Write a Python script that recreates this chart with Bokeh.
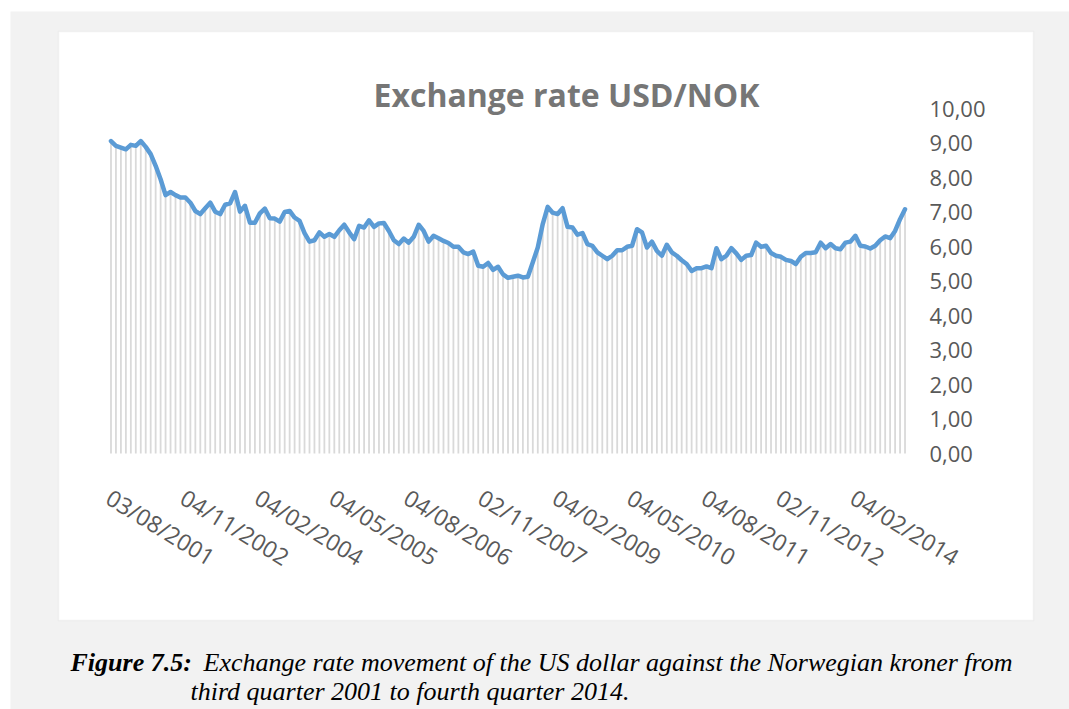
from bokeh.plotting import figure
from bokeh.models import BoxAnnotation, Label, ColumnDataSource
from bokeh.core.properties import value
from bokeh.embed import file_html
from bokeh.resources import INLINE

# ---------------- data ----------------
title_text = "Exchange rate USD/NOK"
caption_bold = "Figure 7.5:"
caption_line1 = "Exchange rate movement of the US dollar against the Norwegian kroner from"
caption_line2 = "third quarter 2001 to fourth quarter 2014."

# monthly USD/NOK rate, Aug 2001 .. Dec 2014
usd_nok = [
    9.07, 8.93, 8.88, 8.83, 8.96, 8.93, 9.07, 8.90, 8.69, 8.35,
    7.96, 7.50, 7.59, 7.50, 7.43, 7.43, 7.28, 7.04, 6.95, 7.12,
    7.28, 7.02, 6.95, 7.22, 7.26, 7.59, 7.02, 7.19, 6.70, 6.70,
    6.97, 7.11, 6.83, 6.82, 6.73, 7.01, 7.04, 6.85, 6.75, 6.40,
    6.15, 6.19, 6.42, 6.29, 6.37, 6.29, 6.48, 6.64, 6.42, 6.22,
    6.61, 6.56, 6.77, 6.58, 6.68, 6.69, 6.46, 6.19, 6.08, 6.24,
    6.12, 6.29, 6.64, 6.46, 6.15, 6.32, 6.25, 6.17, 6.11, 6.00,
    6.00, 5.84, 5.79, 5.86, 5.45, 5.42, 5.53, 5.33, 5.42, 5.20,
    5.10, 5.13, 5.16, 5.11, 5.13, 5.55, 5.98, 6.66, 7.16, 6.99,
    6.95, 7.12, 6.58, 6.56, 6.35, 6.40, 6.08, 6.03, 5.84, 5.74,
    5.64, 5.74, 5.90, 5.90, 6.00, 6.03, 6.51, 6.42, 5.98, 6.15,
    5.88, 5.74, 6.06, 5.84, 5.74, 5.61, 5.50, 5.30, 5.38, 5.38,
    5.43, 5.38, 5.96, 5.64, 5.74, 5.96, 5.81, 5.62, 5.74, 5.76,
    6.12, 6.00, 6.03, 5.82, 5.74, 5.71, 5.62, 5.59, 5.50, 5.71,
    5.82, 5.82, 5.84, 6.12, 5.96, 6.08, 5.96, 5.93, 6.12, 6.15,
    6.32, 6.03, 6.01, 5.95, 6.03, 6.19, 6.30, 6.25, 6.46, 6.80,
    7.09,
]
month_index = list(range(len(usd_nok)))

x_tick_labels = ["03/08/2001", "04/11/2002", "04/02/2004", "04/05/2005",
                 "04/08/2006", "02/11/2007", "04/02/2009", "04/05/2010",
                 "04/08/2011", "02/11/2012", "04/02/2014"]
x_tick_step = 15
y_tick_values = [0, 1, 2, 3, 4, 5, 6, 7, 8, 9, 10]
y_tick_labels = ["0,00", "1,00", "2,00", "3,00", "4,00", "5,00",
                 "6,00", "7,00", "8,00", "9,00", "10,00"]

# ---------------- layout (page pixels) ----------------
W, H = 1069, 709
n = len(usd_nok)
PLOT_L, PLOT_R = 108.0, 907.0     # plot area left/right
PLOT_B, PLOT_T = 453.0, 108.5     # value 0 / value 10
XS = (PLOT_R - PLOT_L) / n        # px per month
YS = (PLOT_B - PLOT_T) / 10.0     # px per unit
X0 = PLOT_L + XS / 2              # page x of month 0

def x_at(px):
    return (px - X0) / XS

def y_at(py):
    return (PLOT_B - py) / YS

p = figure(width=W, height=H, output_backend="svg", toolbar_location=None,
           x_range=(x_at(0), x_at(W)), y_range=(y_at(H), y_at(0)),
           x_axis_location=None, y_axis_location=None, min_border=0)
p.border_fill_color = "white"
p.background_fill_color = "white"
p.outline_line_color = None
p.grid.visible = False

# gray page area and white chart box
p.add_layout(BoxAnnotation(left=x_at(10), right=x_at(W + 5), top=y_at(11),
                           bottom=y_at(H + 5), fill_color="#f2f2f2",
                           fill_alpha=1.0, line_color=None, level="underlay"))
p.add_layout(BoxAnnotation(left=x_at(58), right=x_at(1033), top=y_at(31),
                           bottom=y_at(620), fill_color="white", fill_alpha=1.0,
                           line_color="#d9d9d9", line_width=1.5,
                           level="underlay"))

src = ColumnDataSource(dict(x=month_index, y=usd_nok, base=[0] * n))
p.segment(x0="x", y0="base", x1="x", y1="y", source=src,
          line_color="#d9d9d9", line_width=1.8)
p.line(x="x", y="y", source=src, line_color="#5b9bd5", line_width=4.5,
       line_join="round", line_cap="round")

# category axis labels (rotated)
xticks = list(range(0, n, x_tick_step))[:len(x_tick_labels)]
xsrc = ColumnDataSource(dict(x=xticks, y=[y_at(481)] * len(xticks),
                             text=x_tick_labels))
p.text(x="x", y="y", text="text", source=xsrc, angle=-0.55,
       text_align="left", text_baseline="top", x_offset=6,
       text_font=value("Open Sans"), text_font_size="23px",
       text_color="#595959")

# value axis labels (right side)
ysrc = ColumnDataSource(dict(x=[x_at(929)] * len(y_tick_values),
                             y=y_tick_values, text=y_tick_labels))
p.text(x="x", y="y", text="text", source=ysrc, text_align="left",
       text_baseline="middle", text_font=value("Open Sans"),
       text_font_size="22px", text_color="#595959")

# title
p.add_layout(Label(x=x_at(566), y=y_at(94), text=title_text, text_align="center",
                   text_baseline="alphabetic", text_font="Open Sans",
                   text_font_style="bold", text_font_size="32px",
                   text_color="#767676"))

# caption
p.add_layout(Label(x=x_at(70), y=y_at(662), text=caption_bold, text_align="left",
                   text_baseline="alphabetic", text_font="Liberation Serif",
                   text_font_style="bold italic", text_font_size="26px",
                   text_color="black"))
p.add_layout(Label(x=x_at(203), y=y_at(662), text=caption_line1, text_align="left",
                   text_baseline="alphabetic", text_font="Liberation Serif",
                   text_font_style="italic", text_font_size="26px",
                   text_color="black"))
p.add_layout(Label(x=x_at(190), y=y_at(691), text=caption_line2, text_align="left",
                   text_baseline="alphabetic", text_font="Liberation Serif",
                   text_font_style="italic", text_font_size="26px",
                   text_color="black"))

open("out.html", "w").write(file_html(p, INLINE))
